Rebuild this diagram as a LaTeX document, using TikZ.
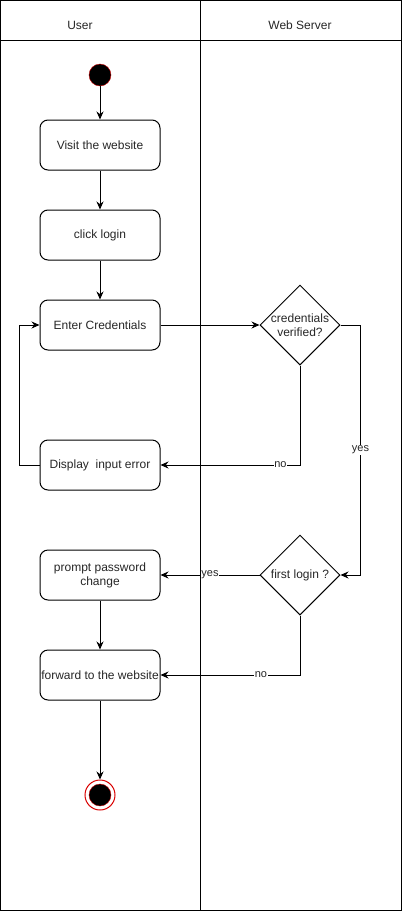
\documentclass[tikz,border=0pt]{standalone}
\usepackage{fontspec}
\setmainfont{Liberation Sans}
\usetikzlibrary{arrows.meta,shapes.geometric}

\begin{document}
\begin{tikzpicture}[x=1pt,y=-1pt,
  every node/.style={font=\fontsize{12}{14}\selectfont, text=black!85},
  actbox/.style={draw, rounded corners=8pt, minimum width=120pt, minimum height=50pt, align=center, line width=1pt},
  decide/.style={draw, diamond, minimum width=80pt, minimum height=80pt, inner sep=0pt, line width=1pt},
  flow/.style={-{Stealth[length=8pt,width=7pt]}, line width=1pt},
  lbl/.style={fill=white, inner sep=0.5pt, font=\fontsize{11}{13}\selectfont}]
\useasboundingbox (0,0) rectangle (402,911);
% swimlanes
\draw[line width=1pt] (0.5,0.5) rectangle (401,910.5);
\draw[line width=1pt] (0.5,40) -- (401,40);
\draw[line width=1pt] (200,0.5) -- (200,910.5);
\node (userlane) at (80,25) {User};
\node (serverlane) at (300,25) {Web Server};
% states
\node[circle, fill=black, draw=red!80!black, minimum size=22pt, inner sep=0pt] (start) at (100,75) {};
\node[actbox] (visit) at (100,145) {Visit the website};
\node[actbox] (click) at (100,235) {click login};
\node[actbox] (enter) at (100,325) {Enter Credentials};
\node[actbox] (error) at (100,465) {Display~~input error};
\node[actbox] (prompt) at (100,575) {prompt password\\change};
\node[actbox, inner sep=0pt] (forward) at (100,675) {forward to the website};
\node[circle, draw=red!85!black, line width=1pt, minimum size=30pt, inner sep=0pt] (finish) at (100,795) {};
\node[circle, fill=black, draw=red!80!black, minimum size=22pt, inner sep=0pt] (finishdot) at (finish) {};
% decisions
\node[decide] (verify) at (300,325) {};
\node[align=center, inner sep=0pt] (verifytext) at (verify) {credentials\\verified?};
\node[decide] (firstlogin) at (300,575) {};
\node[inner sep=0pt] (firsttext) at (firstlogin) {first login ?};
% flows
\draw[flow] (start) -- (visit);
\draw[flow] (visit) -- (click);
\draw[flow] (click) -- (enter);
\draw[flow] (enter) -- (verify);
\draw[flow] (verify.south) |- node[lbl, pos=0.57] {no} (error.east);
\draw[flow] (verify.east) -- ++(20,0) |- node[lbl, pos=0.25] {yes} (firstlogin.east);
\draw[flow] (error.west) -- ++(-20,0) |- (enter.west);
\draw[flow] (firstlogin.west) -- node[lbl, pos=0.5] {yes} (prompt.east);
\draw[flow] (firstlogin.south) |- node[lbl, pos=0.64] {no} (forward.east);
\draw[flow] (prompt) -- (forward);
\draw[flow] (forward) -- (finish);
\end{tikzpicture}
\end{document}
